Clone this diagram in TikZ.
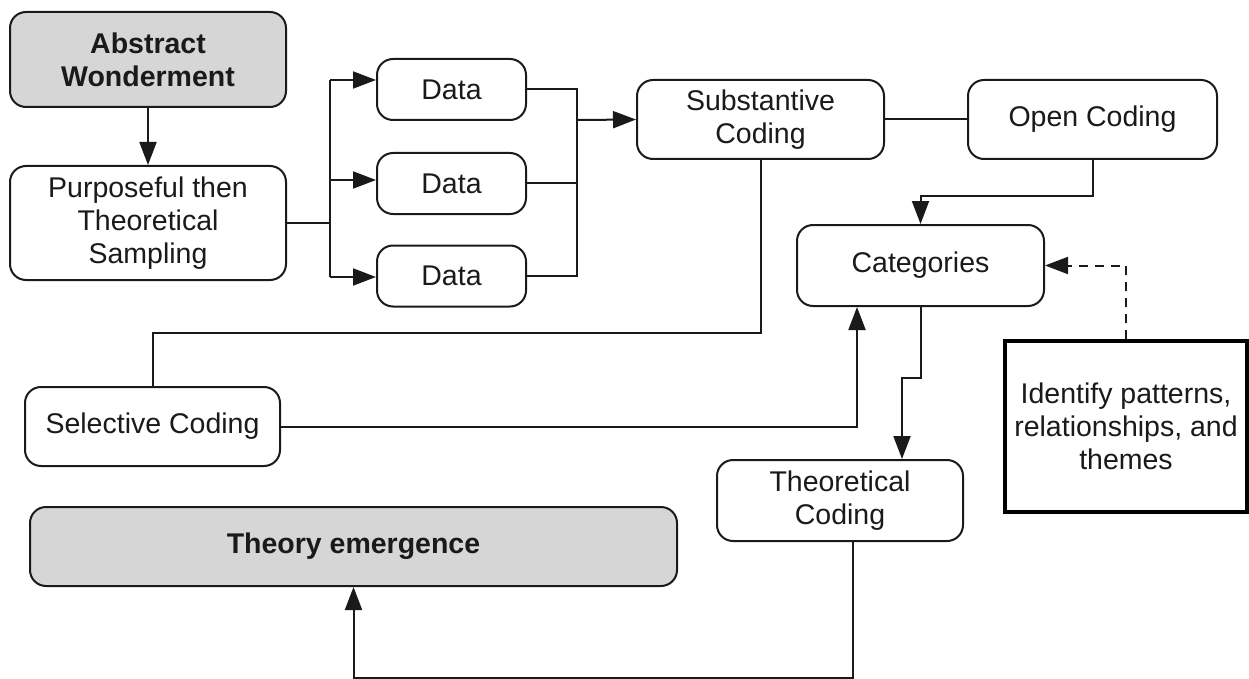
\documentclass[tikz,border=0pt]{standalone}
\usepackage{fontspec}
\setmainfont{Liberation Sans}
\usetikzlibrary{arrows.meta,calc}
\definecolor{boxgray}{HTML}{D6D6D6}
\definecolor{ink}{HTML}{1A1A1A}
\begin{document}
\begin{tikzpicture}[x=1pt,y=-1pt,
  every node/.style={font=\fontsize{28.5}{33}\selectfont, text=ink, align=center},
  rbox/.style={draw=ink, line width=2pt, rounded corners=16pt, fill=white, inner sep=0pt},
  grey/.style={rbox, fill=boxgray, font=\fontsize{28.5}{33}\selectfont\bfseries},
  sharpbox/.style={draw=black, line width=4pt, fill=white, inner sep=0pt},
  link/.style={draw=ink, line width=2pt},
  arr/.style={link, -{Triangle[length=23pt,width=17pt]}},
  dashlink/.style={arr, dash pattern=on 9pt off 7pt}]
\useasboundingbox (0,0) rectangle (1249,679);

% process boxes
\node[grey, minimum width=276pt, minimum height=95pt] (abs) at (148,59.5) {Abstract\\Wonderment};
\node[rbox, minimum width=276pt, minimum height=114pt] (purp) at (148,223) {Purposeful then\\Theoretical\\Sampling};
\node[rbox, minimum width=149pt, minimum height=61pt] (d1) at (451.5,89.5) {Data};
\node[rbox, minimum width=149pt, minimum height=61pt] (d2) at (451.5,183.5) {Data};
\node[rbox, minimum width=149pt, minimum height=61pt] (d3) at (451.5,276) {Data};
\node[rbox, minimum width=247pt, minimum height=79pt] (sub) at (760.5,119.5) {Substantive\\Coding};
\node[rbox, minimum width=249pt, minimum height=79pt] (open) at (1092.5,119.5) {Open Coding};
\node[rbox, minimum width=247pt, minimum height=81pt] (cat) at (920.5,265.5) {Categories};
\node[sharpbox, minimum width=242pt, minimum height=171pt] (iden) at (1126,426.5) {Identify patterns,\\relationships, and\\themes};
\node[rbox, minimum width=255pt, minimum height=79pt] (sel) at (152.5,426.5) {Selective Coding};
\node[rbox, minimum width=246pt, minimum height=81pt] (theo) at (840,500.5) {Theoretical\\Coding};
\node[grey, minimum width=647pt, minimum height=79pt] (emer) at (353.5,546.5) {Theory emergence};

% junction points
\coordinate (jp) at (330,223);
\coordinate (ja) at (330,80);
\coordinate (jb) at (330,180);
\coordinate (jc) at (330,277);
\coordinate (m) at (577,120);
\coordinate (k1) at (0,196);
\coordinate (s1) at (0,333);
\coordinate (t1) at (902,378);
\coordinate (c1) at (857,0);
\coordinate (t2) at (853,678);

% sampling into data
\draw[arr] (abs) -- (purp);
\draw[link] (purp.east) -- (jp);
\draw[link] (ja) -- (jc);
\draw[arr] (ja) -- (ja -| d1.west);
\draw[arr] (jb) -- (jb -| d2.west);
\draw[arr] (jc) -- (jc -| d3.west);

% data merged into substantive coding
\draw[link] (d1.east) -- (d1.east -| m) -- (d3.east -| m) -- (d3.east);
\draw[link] (d2.east) -- (d2.east -| m);
\draw[arr] (m) -- (sub.west);

% coding flow
\draw[link] (sub.east) -- (open.west);
\draw[arr] (open.south) -- (open.south |- k1) -| (cat.north);
\draw[dashlink] (iden.north) |- (cat.east);
\draw[arr] (cat.south) |- (t1) -- (t1 |- theo.north);
\draw[link] (sub.south) -- (sub.south |- s1) -| (sel.north);
\draw[arr] (sel.east) -| (c1 |- cat.south);
\draw[arr] (t2 |- theo.south) -- (t2) -| (emer.south);
\end{tikzpicture}
\end{document}
